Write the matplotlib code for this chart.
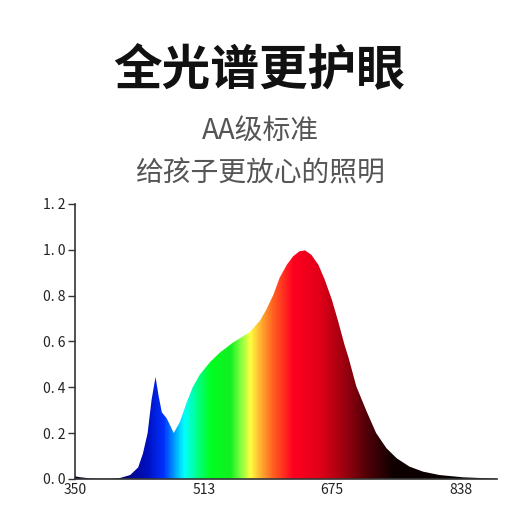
import numpy as np
import matplotlib
matplotlib.use('Agg')
import matplotlib.pyplot as plt
from matplotlib.colors import LinearSegmentedColormap
from matplotlib.patches import PathPatch

plt.rcParams['font.family'] = ['Noto Sans CJK SC', 'DejaVu Sans']

title = '全光谱更护眼'
sub1 = 'AA级标准'
sub2 = '给孩子更放心的照明'

# spectrum (nm, relative intensity)
wavelength = [350, 355, 360, 365, 370, 380, 395, 407, 420, 430, 436, 442, 447,
              452, 456, 460, 466, 471, 475, 483, 491, 499, 508, 521, 533, 550,
              571, 584, 592, 601, 609, 618, 626, 634, 641, 649, 658, 666, 675,
              683, 691, 696, 706, 719, 731, 744, 757, 773, 790, 811, 841, 870,
              884]
intensity = [0.012, 0.008, 0.006, 0.004, 0.002, 0.001, 0.001, 0.004, 0.017,
             0.05, 0.11, 0.2, 0.345, 0.445, 0.36, 0.29, 0.265, 0.23, 0.2, 0.25,
             0.33, 0.40, 0.455, 0.51, 0.55, 0.595, 0.64, 0.69, 0.738, 0.803,
             0.878, 0.934, 0.971, 0.993, 0.997, 0.978, 0.934, 0.869, 0.782,
             0.687, 0.585, 0.53, 0.403, 0.294, 0.2, 0.134, 0.09, 0.054, 0.032,
             0.017, 0.007, 0.003, 0.001]

xticks = [350, 513, 675, 838]
yticks = [0.0, 0.2, 0.4, 0.6, 0.8, 1.0, 1.2]
ytick_labels = ['0. 0', '0. 2', '0. 4', '0. 6', '0. 8', '1. 0', '1. 2']

xmin, xmax = 350, 884

# rainbow stops for the fill
stop_nm = [350, 405, 441, 461, 487, 505, 521, 546, 559, 571, 584, 600, 626,
           660, 689, 719, 752, 884]
stop_col = ['#000020', '#000070', '#0010c0', '#0030ff', '#00ffff', '#00ff80',
            '#00ff20', '#10f020', '#80ff40', '#ffff40', '#ffb030', '#ff6020',
            '#ff0020', '#e00018', '#a00010', '#500008', '#100000', '#000000']
cmap = LinearSegmentedColormap.from_list(
    'spec', list(zip([(w - xmin) / (xmax - xmin) for w in stop_nm], stop_col)))

fig = plt.figure(figsize=(5.2, 5.2), dpi=100)
fig.text(0.498, 0.865, title, ha='center', va='center', fontsize=35,
         fontweight='bold', color='#111111')
fig.text(0.5, 0.746, sub1, ha='center', va='center', fontsize=20, color='#555555')
fig.text(0.5, 0.667, sub2, ha='center', va='center', fontsize=20, color='#555555')

ax = fig.add_axes([0.144, 0.079, 0.812, 0.529])
grad = np.linspace(0, 1, 600).reshape(1, -1)
im = ax.imshow(grad, cmap=cmap, extent=[xmin, xmax, 0, 1.2], aspect='auto',
               origin='lower', interpolation='bilinear')
fill = ax.fill_between(wavelength, intensity, 0, color='none', lw=0)
clip = PathPatch(fill.get_paths()[0], transform=ax.transData,
                 facecolor='none', edgecolor='none')
ax.add_patch(clip)
im.set_clip_path(clip)

ax.set_xlim(xmin, xmax)
ax.set_ylim(0, 1.2)
ax.set_xticks(xticks)
ax.set_xticklabels([str(t) for t in xticks])
ax.set_yticks(yticks)
ax.set_yticklabels(ytick_labels)
ax.tick_params(axis='x', length=0, pad=3, labelsize=10, labelcolor='#222222')
ax.tick_params(axis='y', length=5, width=1, pad=2, labelsize=10,
               labelcolor='#222222', color='#333333')
for s in ['top', 'right']:
    ax.spines[s].set_visible(False)
for s in ['left', 'bottom']:
    ax.spines[s].set_color('#333333')
    ax.spines[s].set_linewidth(1.2)

fig.savefig('out.png', dpi=100)
